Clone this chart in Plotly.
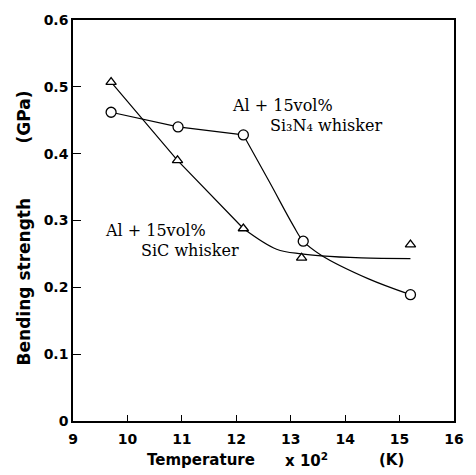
import plotly.graph_objects as go

# Measured points
sic_x = [9.7, 10.92, 12.13, 13.2, 15.2]
sic_y = [0.507, 0.39, 0.288, 0.244, 0.264]
si3n4_x = [9.7, 10.93, 12.13, 13.23, 15.2]
si3n4_y = [0.462, 0.44, 0.428, 0.269, 0.189]

# Hand-drawn trend curves
sic_line_x = [9.7, 10.92, 12.13]
sic_line_y = [0.507, 0.39, 0.288]
sic_curve_x = [12.13, 12.74, 13.2, 13.56, 14.3, 15.2]
sic_curve_y = [0.288, 0.257, 0.25, 0.247, 0.244, 0.243]
si3n4_line_x = [9.7, 10.93, 12.13]
si3n4_line_y = [0.462, 0.44, 0.428]
si3n4_curve_x = [12.13, 12.62, 13.05, 13.23, 13.56, 14.42, 15.2]
si3n4_curve_y = [0.428, 0.356, 0.292, 0.269, 0.248, 0.213, 0.189]

x_ticks = [9, 10, 11, 12, 13, 14, 15, 16]
y_ticks = [0, 0.1, 0.2, 0.3, 0.4, 0.5, 0.6]
y_ticklabels = ["0", "0.1", "0.2", "0.3", "0.4", "0.5", "0.6"]

fig = go.Figure()
lw = 1.2
for xs, ys, shape in [(sic_line_x, sic_line_y, "linear"), (sic_curve_x, sic_curve_y, "spline"),
                      (si3n4_line_x, si3n4_line_y, "linear"), (si3n4_curve_x, si3n4_curve_y, "spline")]:
    fig.add_trace(go.Scatter(x=xs, y=ys, mode="lines", line=dict(color="black", width=lw, shape=shape),
                             showlegend=False, hoverinfo="skip"))

fig.add_trace(go.Scatter(x=sic_x, y=sic_y, mode="markers", showlegend=False,
                         marker=dict(symbol="triangle-up", size=9, color="white",
                                     line=dict(color="black", width=1.3))))
fig.add_trace(go.Scatter(x=si3n4_x, y=si3n4_y, mode="markers", showlegend=False,
                         marker=dict(symbol="circle", size=10, color="white",
                                     line=dict(color="black", width=1.3))))

serif = dict(family="DejaVu Serif", size=16, color="black")
xbold = dict(family="DejaVu Sans", size=15, color="black", weight="bold")
ybold = dict(family="DejaVu Sans", size=17, color="black", weight="bold")
tickbold = dict(family="DejaVu Sans", size=14, color="black", weight="bold")

anns = [
    dict(x=232, y=102, text="Al + 15vol%", font=serif, xanchor="left"),
    dict(x=271, y=122, text="Si₃N₄ whisker", font=serif, xanchor="left"),
    dict(x=103, y=228, text="Al + 15vol%", font=serif, xanchor="left"),
    dict(x=140, y=248, text="SiC whisker", font=serif, xanchor="left"),
    dict(x=203, y=460, text="Temperature", font=xbold, xanchor="center"),
    dict(x=310, y=460, text="x 10<sup>2</sup>", font=xbold, xanchor="center"),
    dict(x=396, y=460, text="(K)", font=xbold, xanchor="center"),
    dict(x=23, y=280, text="Bending strength", font=ybold, textangle=-90, xanchor="center"),
    dict(x=23, y=113, text="(GPa)", font=ybold, textangle=-90, xanchor="center"),
]

L, R, T, B = 73, 17, 15, 54
W, H = 476 - L - R, 475 - T - B
for a in anns:
    fig.add_annotation(x=(a["x"] - L) / W, y=1 - (a["y"] - T) / H, xref="paper", yref="paper",
                       text=a["text"], font=a["font"], showarrow=False,
                       xanchor=a["xanchor"], yanchor="middle", textangle=a.get("textangle", 0))

fig.update_xaxes(range=[9, 16], tickvals=x_ticks, ticks="inside", ticklen=6, tickwidth=1.2,
                 tickcolor="black", showline=True, linecolor="black", linewidth=1.5, mirror=True,
                 showgrid=False, zeroline=False, tickfont=tickbold, ticklabelstandoff=4)
fig.update_yaxes(range=[0, 0.6], tickvals=y_ticks, ticktext=y_ticklabels, ticks="inside", ticklen=8,
                 tickwidth=1.2, tickcolor="black", showline=True, linecolor="black", linewidth=1.5,
                 mirror=True, showgrid=False, zeroline=False, tickfont=tickbold)
fig.update_layout(width=476, height=475, margin=dict(l=L, r=R, t=T, b=B),
                  plot_bgcolor="white", paper_bgcolor="white")
fig.write_html("out.html")
